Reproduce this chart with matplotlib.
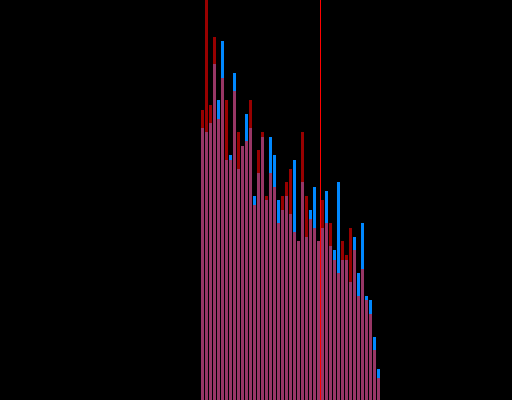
import matplotlib
matplotlib.use("Agg")
import matplotlib.pyplot as plt
import numpy as np

# counts per bin (y axis clipped at 100)
red_counts = [72.5, 110, 73.75, 90.75, 70.25, 80.5, 75, 60, 77.25, 67,
              63.5, 64.75, 75, 48.75, 62.5, 67, 51, 56.75, 53.25, 44.25,
              51, 54.5, 57.75, 42, 39.75, 67, 51, 45.25, 43, 39.75,
              50, 44.25, 44.25, 35, 31.75, 39.75, 36.25, 43, 37.5, 26,
              32.75, 25, 21.5, 12.5, 5.5]
blue_counts = [68, 67, 69.25, 84, 75, 89.75, 60, 61.25, 81.75, 57.75,
               63.5, 71.5, 68, 51, 56.75, 65.75, 50, 65.75, 61.25, 50,
               47.5, 51, 46.5, 60, 39.75, 54.5, 40.75, 47.5, 53.25, 39.75,
               43, 52.25, 38.5, 37.5, 54.5, 35, 35, 29.5, 40.75, 31.75,
               44.25, 26, 25, 15.75, 7.75]
marker_x = 29.875

bins = np.arange(len(red_counts))

fig = plt.figure(figsize=(5.12, 4.0), dpi=100, facecolor="black")
ax = fig.add_axes([0, 0, 1, 1])
ax.set_facecolor("black")

ax.bar(bins, blue_counts, width=0.75, align="edge", color="#0088ff",
       linewidth=0, antialiased=False)
ax.bar(bins, red_counts, width=0.75, align="edge", color="#ff0000",
       alpha=0.6, linewidth=0, antialiased=False)
# marker line, one pixel wide (quarter of a bin)
ax.axvspan(marker_x - 0.125, marker_x + 0.125, color="#ff0000",
           linewidth=0, antialiased=False, zorder=5)

ax.set_xlim(-50.25, 77.75)
ax.set_ylim(0, 100)
ax.axis("off")

fig.savefig("out.png", dpi=100, facecolor="black")
